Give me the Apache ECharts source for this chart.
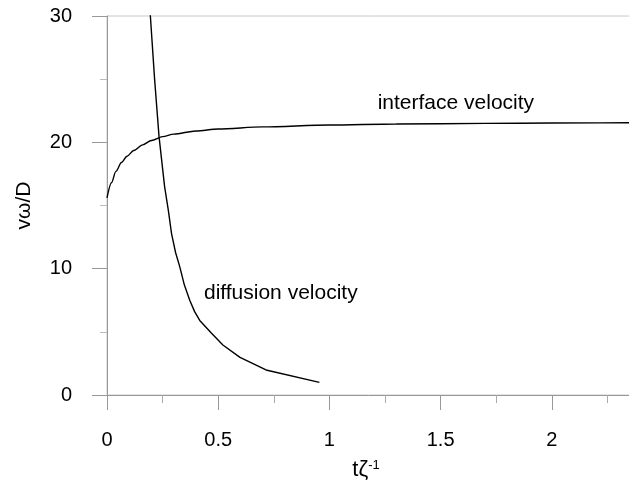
<!DOCTYPE html>
<html>
<head>
<meta charset="utf-8">
<script src="https://cdn.jsdelivr.net/npm/echarts@6/dist/echarts.min.js"></script>
<style>html,body{margin:0;padding:0;background:#fff}#c{width:629px;height:491px}</style>
</head>
<body>
<div id="c"></div>
<script>
// interface velocity
const interfaceX = [0, 0.02, 0.04, 0.065, 0.09, 0.12, 0.16, 0.2, 0.25, 0.3, 0.4, 0.5, 0.7, 1.0, 1.3, 1.7, 2.0, 2.5];
const interfaceY = [15.6, 16.8, 17.7, 18.4, 18.9, 19.35, 19.8, 20.15, 20.45, 20.65, 20.9, 21.05, 21.22, 21.37, 21.45, 21.5, 21.53, 21.57];
// diffusion velocity
const diffusionX = [0.178, 0.195, 0.214, 0.234, 0.259, 0.276, 0.29, 0.308, 0.327, 0.348, 0.372, 0.394, 0.417, 0.469, 0.521, 0.598, 0.715, 0.955];
const diffusionY = [35, 30, 25, 20.45, 16.5, 14.6, 12.8, 11.3, 10.16, 8.7, 7.5, 6.6, 5.9, 4.9, 3.96, 2.98, 1.98, 1.0];
// axis ticks
const xTicks = [0, 0.5, 1, 1.5, 2];
const yTicks = [0, 10, 20, 30];
// annotations
const labelInterface = {text: 'interface velocity', x: 1.217, y: 23.1};
const labelDiffusion = {text: 'diffusion velocity', x: 0.436, y: 8.07};

const FONT = 'Liberation Sans, Arial, sans-serif';
const zip = (xs, ys) => xs.map((x, i) => [x, ys[i]]);

const chart = echarts.init(document.getElementById('c'), null, {renderer: 'canvas'});
const axisGray = '#999';
chart.setOption({
  animation: false,
  backgroundColor: '#fff',
  grid: {left: 107, top: 16, bottom: 96, right: -34, outerBoundsMode: 'none', containLabel: false,
    show: true, borderColor: '#c8c8c8', borderWidth: 1, backgroundColor: 'transparent'},
  xAxis: {
    type: 'value', min: xTicks[0], max: 2.5, interval: 0.5,
    axisLine: {show: true, onZero: false, lineStyle: {color: axisGray, width: 1}},
    axisTick: {show: true, length: 15, lineStyle: {color: axisGray}},
    minorTick: {show: true, splitNumber: 2, length: 8, lineStyle: {color: '#aaa'}},
    splitLine: {show: false},
    axisLabel: {margin: 35, fontSize: 20, fontFamily: FONT, color: '#000',
      formatter: v => xTicks.includes(v) ? String(v) : ''},
    name: '{t|tζ}{s|-1}', nameLocation: 'middle', nameGap: 64,
    nameTextStyle: {padding: [0, 38, 0, 0], rich: {
      t: {fontSize: 22, fontFamily: FONT, color: '#000'},
      s: {fontSize: 13, fontFamily: FONT, color: '#000', verticalAlign: 'top', padding: [0, 0, 8, 0]}
    }}
  },
  yAxis: {
    type: 'value', min: yTicks[0], max: 30, interval: 10,
    axisLine: {show: true, onZero: false, lineStyle: {color: axisGray, width: 1}},
    axisTick: {show: true, length: 15, lineStyle: {color: axisGray}},
    minorTick: {show: true, splitNumber: 2, length: 7, lineStyle: {color: '#bbb'}},
    splitLine: {show: false},
    axisLabel: {margin: 35, fontSize: 20, fontFamily: FONT, color: '#000',
      formatter: v => yTicks.includes(v) ? String(v) : ''},
    name: 'vω/D', nameLocation: 'middle', nameGap: 72,
    nameTextStyle: {fontSize: 21, fontFamily: FONT, color: '#000'}
  },
  series: [
    {
      type: 'line', data: zip(interfaceX, interfaceY), showSymbol: false, symbol: 'none',
      smooth: 0.3, smoothMonotone: 'x', clip: true,
      lineStyle: {color: '#000', width: 1.4},
      markPoint: {symbol: 'circle', symbolSize: 0, silent: true,
        label: {show: true, position: 'right', distance: 0, fontSize: 21, fontFamily: FONT, color: '#000', formatter: labelInterface.text},
        data: [{coord: [labelInterface.x, labelInterface.y]}]}
    },
    {
      type: 'line', data: zip(diffusionX, diffusionY), showSymbol: false, symbol: 'none',
      smooth: false, clip: true,
      lineStyle: {color: '#000', width: 1.4},
      markPoint: {symbol: 'circle', symbolSize: 0, silent: true,
        label: {show: true, position: 'right', distance: 0, fontSize: 21, fontFamily: FONT, color: '#000', formatter: labelDiffusion.text},
        data: [{coord: [labelDiffusion.x, labelDiffusion.y]}]}
    }
  ]
});
</script>
</body>
</html>
